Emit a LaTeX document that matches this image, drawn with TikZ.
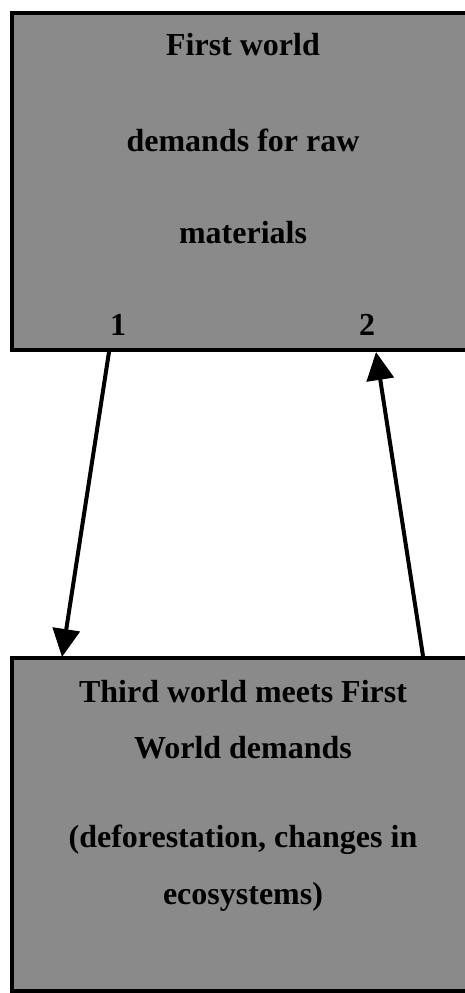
\documentclass[tikz,border=0pt]{standalone}
\usepackage{fontspec}
\setmainfont{Liberation Serif}
\usetikzlibrary{arrows.meta}
\definecolor{boxgray}{RGB}{138,138,138}
\tikzset{
  panel/.style={draw=black, line width=4pt, fill=boxgray, rectangle, inner sep=0pt},
  lbl/.style={font=\fontsize{32}{32}\selectfont\bfseries, inner sep=0pt, anchor=center},
  flow/.style={line width=4pt, -{Triangle[length=28pt,width=27pt]}}
}
\begin{document}
\begin{tikzpicture}[x=1pt,y=-1pt]
\useasboundingbox (0,0) rectangle (465,993);
\clip (0,0) rectangle (465,993);
\node[panel, minimum width=470pt, minimum height=337pt] (top) at (247,181.5) {};
\node[panel, minimum width=470pt, minimum height=333pt] (bot) at (247,824.5) {};
\node[lbl] (t1) at (243,45) {First world};
\node[lbl] (t2) at (243,140) {demands for raw};
\node[lbl] (t3) at (243,233) {materials};
\node[lbl] (n1) at (118,325) {1};
\node[lbl] (n2) at (367,325) {2};
\node[lbl] (b1) at (243,692) {Third world meets First};
\node[lbl] (b2) at (243,748) {World demands};
\node[lbl] (b3) at (243,840) {(deforestation, changes in};
\node[lbl] (b4) at (243,897) {ecosystems)};
\coordinate (a1s) at (109,352);
\coordinate (a1e) at (62,657);
\coordinate (a2s) at (423,656);
\coordinate (a2e) at (376,352);
\draw[flow] (a1s) -- (a1e);
\draw[flow] (a2s) -- (a2e);
\end{tikzpicture}
\end{document}
